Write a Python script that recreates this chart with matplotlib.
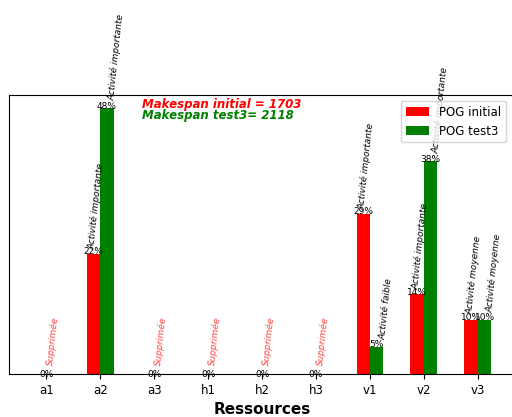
import matplotlib
matplotlib.use('Agg')
import matplotlib.pyplot as plt
import numpy as np

ressources = ['a1', 'a2', 'a3', 'h1', 'h2', 'h3', 'v1', 'v2', 'v3']
pog_initial = [0, 21.7, 0, 0, 0, 0, 28.9, 14.4, 9.8]
pog_test3 = [0, 48.0, 0, 0, 0, 0, 4.9, 38.4, 9.8]
lab_initial = ['Supprimée', 'Activité importante', 'Supprimée', 'Supprimée', 'Supprimée',
               'Supprimée', 'Activité importante', 'Activité importante', 'Activité moyenne']
lab_test3 = ['', 'Activité importante', '', '', '', '', 'Activité faible',
             'Activité importante', 'Activité moyenne']
makespan_initial = 1703
makespan_test3 = 2118

fig = plt.figure(figsize=(5.12, 4.17), dpi=100)
ax = fig.add_axes([0.0176, 0.103, 0.988, 0.669])

x = np.arange(len(ressources))
w = 0.25
ax.bar(x - w/2, pog_initial, w, color='red', label='POG initial')
ax.bar(x + w/2, pog_test3, w, color='green', label='POG test3')

for i in range(len(x)):
    if lab_initial[i] == 'Supprimée':
        ax.text(x[i], 0, '0%', ha='center', va='center', fontsize=6.5)
        ax.text(x[i] + 0.12, 1.5, 'Supprimée', color='red', alpha=0.75, style='italic',
                rotation=84, ha='center', va='bottom', fontsize=6.5)
        continue
    ax.text(x[i] - w/2, pog_initial[i] + 0.4, '%d%%' % round(pog_initial[i]),
            ha='center', va='center', fontsize=6.5)
    ax.text(x[i] - w/2 + 0.05, pog_initial[i] + 0.8, lab_initial[i], style='italic',
            rotation=84, ha='center', va='bottom', fontsize=6.5)
    ax.text(x[i] + w/2, pog_test3[i] + 0.4, '%d%%' % round(pog_test3[i]),
            ha='center', va='center', fontsize=6.5)
    ax.text(x[i] + w/2 + 0.18, pog_test3[i] + 1.3, lab_test3[i], style='italic',
            rotation=84, ha='center', va='bottom', fontsize=6.5)

ax.text(0.263, 0.968, 'Makespan initial = %d' % makespan_initial, transform=ax.transAxes,
        color='red', fontweight='bold', style='italic', fontsize=8.5, va='center')
ax.text(0.263, 0.925, 'Makespan test3= %d' % makespan_test3, transform=ax.transAxes,
        color='green', fontweight='bold', style='italic', fontsize=8.5, va='center')

ax.set_xticks(x)
ax.set_xticklabels(ressources, fontsize=8.5)
ax.set_yticks([])
ax.set_xlim(-0.69, 8.685)
ax.set_ylim(0, 50.4)
ax.set_xlabel('Ressources', fontsize=11, fontweight='bold')
ax.legend(loc='upper right', fontsize=8.5, bbox_to_anchor=(0.9935, 1.0))

fig.savefig('out.png', dpi=100)
